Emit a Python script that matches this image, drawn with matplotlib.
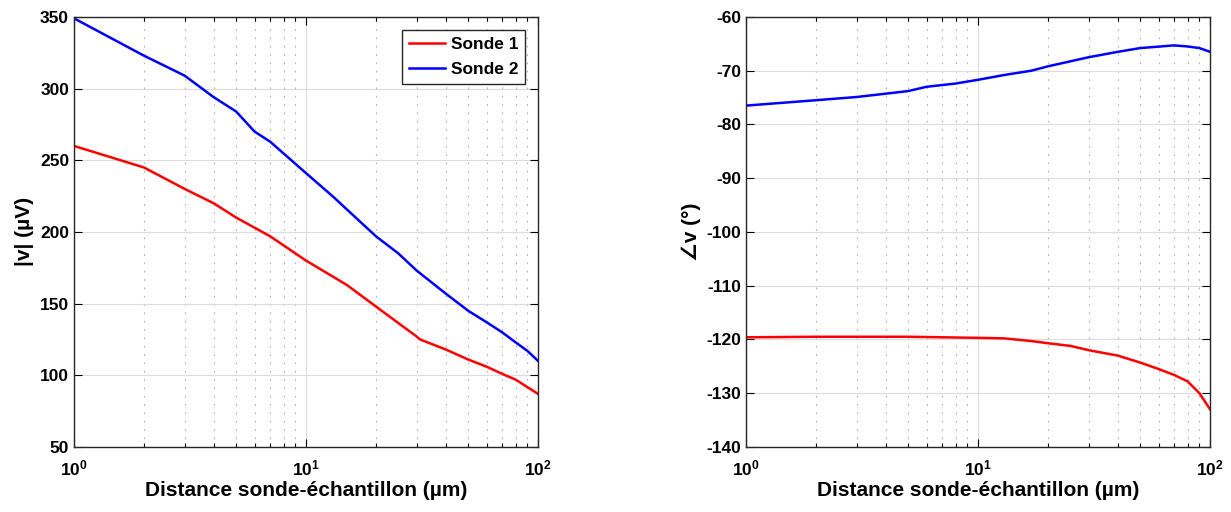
import matplotlib
matplotlib.use('Agg')
import matplotlib.pyplot as plt
from matplotlib.ticker import LogLocator, NullFormatter, MultipleLocator

plt.rcParams['font.family'] = ['Liberation Sans', 'DejaVu Sans']
plt.rcParams['font.weight'] = 'bold'
plt.rcParams['axes.unicode_minus'] = False
plt.rcParams['mathtext.fontset'] = 'custom'
plt.rcParams['mathtext.rm'] = 'Liberation Sans:bold'
plt.rcParams['mathtext.it'] = 'Liberation Sans:bold'
plt.rcParams['mathtext.bf'] = 'Liberation Sans:bold'

# --- amplitude |v| (uV) ---
x1_amp = [1, 2, 3, 4, 5, 7, 10, 15, 20, 30, 31, 40, 50, 60, 70, 80, 100]
s1_amp = [260, 245, 230, 220, 210, 197, 180, 163, 148, 127, 125, 118, 111, 106, 101, 97, 87]
x2_amp = [1, 2, 3, 4, 5, 6, 7, 10, 13, 20, 25, 30, 40, 50, 60, 70, 80, 90, 100]
s2_amp = [349, 323, 309, 294, 284, 270, 263, 241, 225, 197, 185, 173, 157, 145, 137, 130, 123, 117, 110]

# --- phase (deg) ---
x1_ph = [1, 2, 5, 10, 13, 17, 20, 25, 30, 40, 50, 60, 70, 80, 90, 100]
s1_ph = [-119.6, -119.5, -119.5, -119.7, -119.8, -120.3, -120.7, -121.2, -122.0,
         -123.0, -124.3, -125.5, -126.6, -127.8, -130.0, -133.0]
x2_ph = [1, 2, 3, 5, 6, 8, 10, 13, 17, 20, 30, 40, 50, 70, 80, 90, 100]
s2_ph = [-76.5, -75.5, -74.9, -73.8, -73.0, -72.4, -71.7, -70.8, -70.0, -69.2,
         -67.5, -66.5, -65.8, -65.3, -65.5, -65.8, -66.5]

fig = plt.figure(figsize=(12.31, 5.12), dpi=100)
ax1 = fig.add_axes([0.0601, 0.127, 0.377, 0.840])
ax2 = fig.add_axes([0.606, 0.127, 0.377, 0.840])

def style(ax):
    ax.set_xscale('log')
    ax.set_xlim(1, 100)
    ax.xaxis.set_major_locator(LogLocator(base=10))
    ax.xaxis.set_minor_locator(LogLocator(base=10, subs=range(2, 10)))
    ax.xaxis.set_minor_formatter(NullFormatter())
    ax.grid(True, which='major', color='#dcdcdc', linewidth=0.8)
    ax.grid(True, which='minor', axis='x', color='#b0b0b0', linestyle=(0, (1.5, 6)), linewidth=0.8)
    ax.tick_params(which='both', direction='in', top=True, right=True, labelsize=12.5, width=0.8)
    ax.tick_params(which='major', length=6)
    ax.tick_params(which='minor', length=3)
    ax.tick_params(axis='x', pad=8)
    for s in ax.spines.values():
        s.set_linewidth(1.0)
        s.set_color('#262626')
    ax.set_axisbelow(True)
    ax.set_xlabel('Distance sonde-échantillon (µm)', fontsize=15, fontweight='bold', labelpad=2)

ax1.plot(x1_amp, s1_amp, color='#ff0000', lw=1.8, label='Sonde 1')
ax1.plot(x2_amp, s2_amp, color='#0000ff', lw=1.8, label='Sonde 2')
style(ax1)
ax1.set_ylim(50, 350)
ax1.yaxis.set_major_locator(MultipleLocator(50))
ax1.set_ylabel('|v| (µV)', fontsize=15, fontweight='bold')
leg = ax1.legend(loc='upper right', fontsize=12.5, frameon=True, fancybox=False,
                 edgecolor='#262626', framealpha=1, borderaxespad=0.75, borderpad=0.4,
                 handlelength=2.1, handletextpad=0.3, labelspacing=0.55)
leg.get_frame().set_linewidth(1.0)

ax2.plot(x1_ph, s1_ph, color='#ff0000', lw=1.8)
ax2.plot(x2_ph, s2_ph, color='#0000ff', lw=1.8)
style(ax2)
ax2.set_ylim(-140, -60)
ax2.yaxis.set_major_locator(MultipleLocator(10))
ax2.set_ylabel('∠v (°)', fontsize=15, fontweight='bold')

fig.savefig('out.png', dpi=100, facecolor='white')
